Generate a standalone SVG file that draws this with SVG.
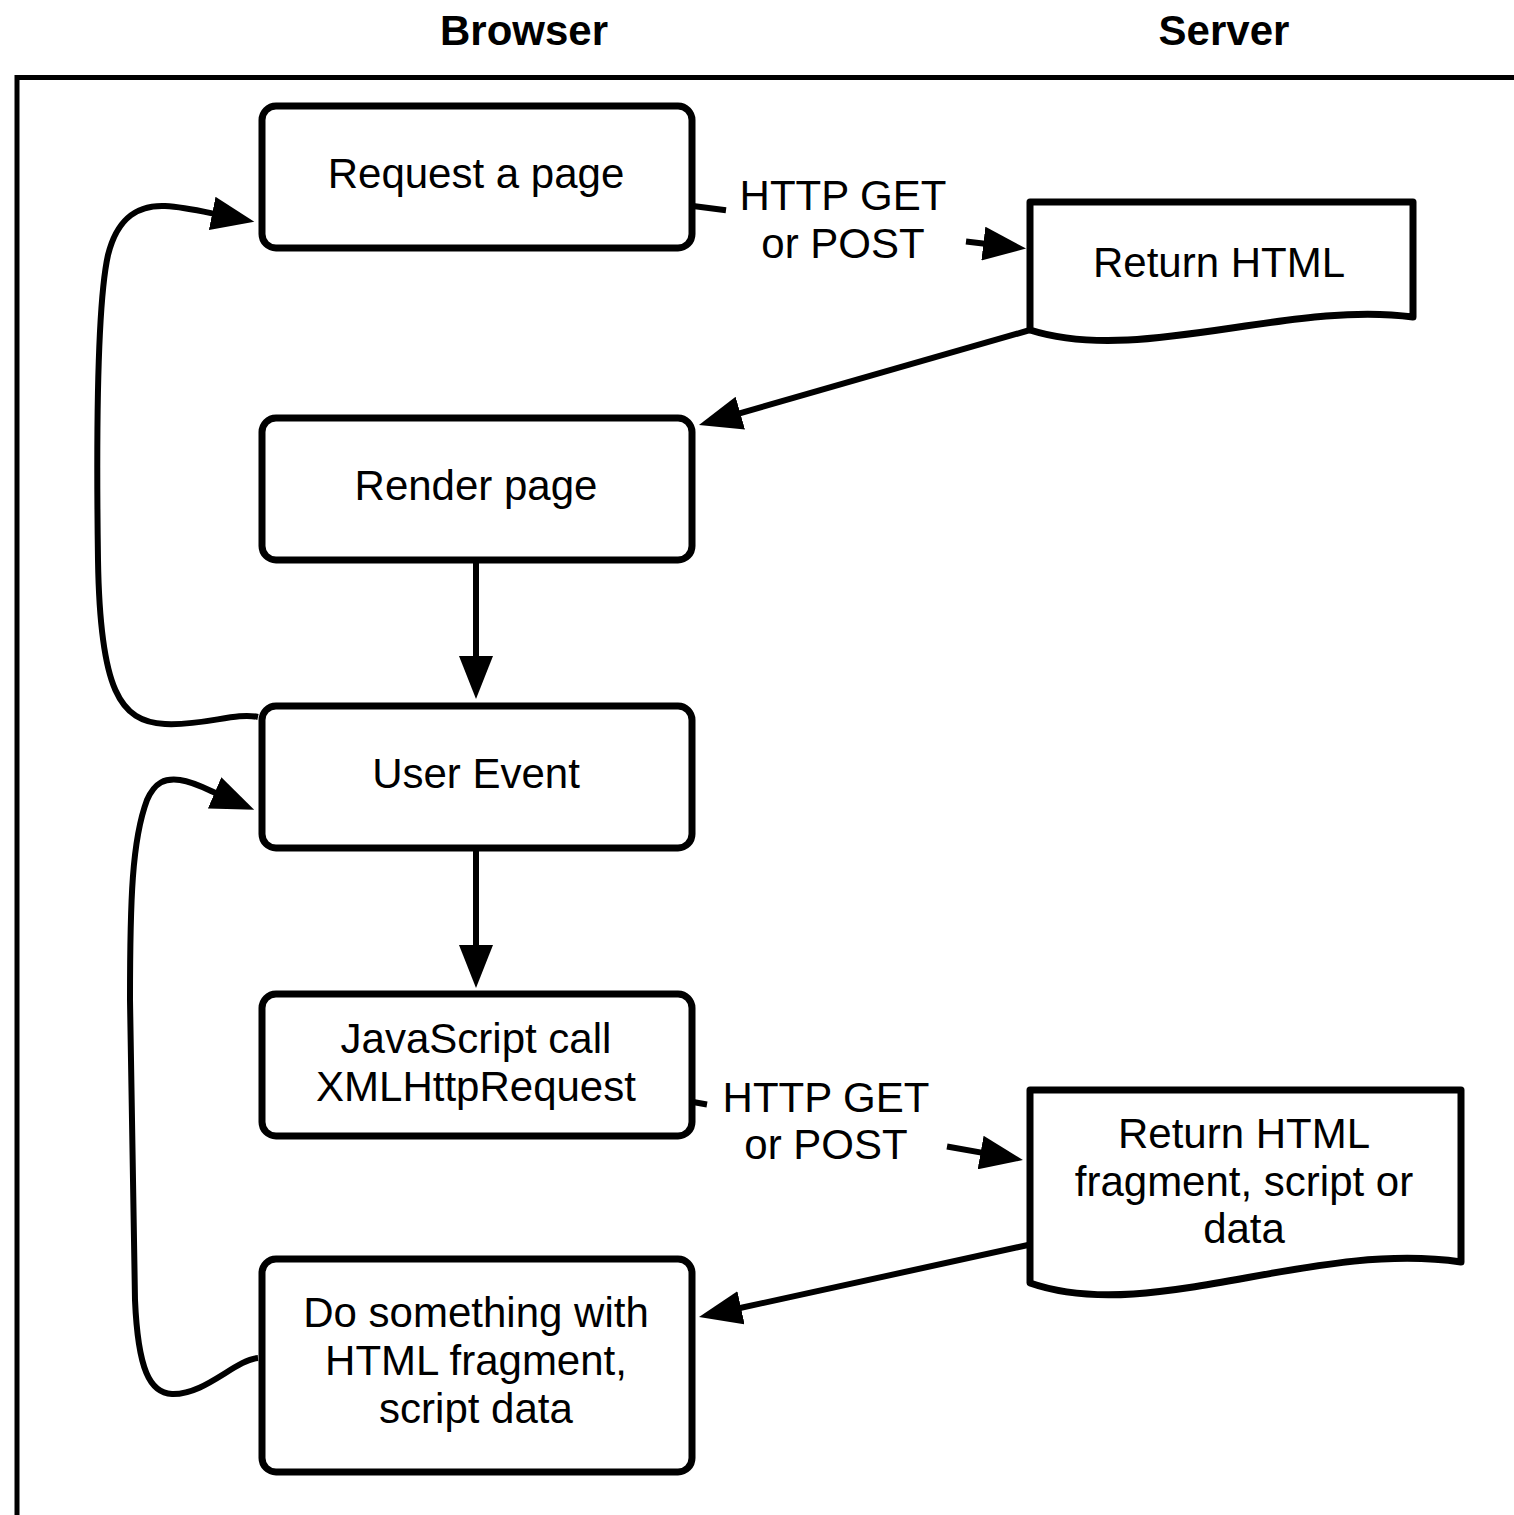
<svg xmlns="http://www.w3.org/2000/svg" width="1514" height="1515" viewBox="0 0 1514 1515">
<style>
.box{fill:#fff;stroke:#000;stroke-width:7}
.doc{fill:#fff;stroke:#000;stroke-width:7;stroke-linejoin:round}
.t{font-family:"Liberation Sans",Arial,sans-serif;font-size:42px;fill:#000;text-anchor:middle}
.h{font-family:"Liberation Sans",Arial,sans-serif;font-size:42px;font-weight:bold;fill:#000;text-anchor:middle}
.c{fill:none;stroke:#000;stroke-width:6}
.a{marker-end:url(#arr)}
</style>
<defs>
<marker id="arr" markerUnits="userSpaceOnUse" markerWidth="44" markerHeight="34" viewBox="0 0 44 34" refX="8" refY="17" orient="auto">
<path d="M0,0 L43,17 L0,34 Z" fill="#000"/>
</marker>
</defs>
<rect width="1514" height="1515" fill="#fff"/>
<path d="M17,1515 L17,77.5 L1514,77.5" fill="none" stroke="#000" stroke-width="5"/>
<text class="h" x="524" y="45">Browser</text>
<text class="h" x="1224" y="45">Server</text>

<g id="connectors">
<path class="c a" d="M693,206 L726,210.3 M966,241.5 L991.3,244.5"/>
<path class="c a" d="M1030,330 L732.6,415.3"/>
<path class="c a" d="M476,561 L476,664"/>
<path class="c a" d="M476,849 L476,953"/>
<path class="c a" d="M693,1102 L707,1104.5 M947,1146.5 L988.5,1153.9"/>
<path class="c a" d="M1028,1245 L733.2,1309.5"/>
<path class="c a" d="M258,717 C235,712 205,726 165,724 C120,722 100,690 98,560 C96,420 98,300 108,255 C118,215 140,205 165,206 C185,207 205,212 220,215"/>
<path class="c a" d="M258,1358 C235,1360 205,1395 172,1394 C150,1393 138,1370 135,1300 L130,1000 C130,900 132,840 147,800 C155,782 165,778 180,780 C195,782 208,790 222,796"/>
<text class="t" x="843" y="210">HTTP GET</text>
<text class="t" x="843" y="258">or POST</text>
<text class="t" x="826" y="1112">HTTP GET</text>
<text class="t" x="826" y="1159">or POST</text>
</g>

<g id="request">
<rect class="box" x="262" y="106" width="430" height="142" rx="14"/>
<text class="t" x="476" y="188">Request a page</text>
</g>
<g id="return-html">
<path class="doc" d="M1030,330 L1030,202 L1413,202 L1413,317 C1290,300 1140,365 1030,330 Z"/>
<text class="t" x="1219" y="277">Return HTML</text>
</g>
<g id="render">
<rect class="box" x="262" y="418" width="430" height="142" rx="14"/>
<text class="t" x="476" y="500">Render page</text>
</g>
<g id="user-event">
<rect class="box" x="262" y="706" width="430" height="142" rx="14"/>
<text class="t" x="476" y="788">User Event</text>
</g>
<g id="js-call">
<rect class="box" x="262" y="994" width="430" height="142" rx="14"/>
<text class="t" x="476" y="1053">JavaScript call</text>
<text class="t" x="476" y="1101">XMLHttpRequest</text>
</g>
<g id="return-fragment">
<path class="doc" d="M1030,1283 L1030,1090 L1461,1090 L1461,1262 C1310,1240 1150,1325 1030,1283 Z"/>
<text class="t" x="1244" y="1148">Return HTML</text>
<text class="t" x="1244" y="1196">fragment, script or</text>
<text class="t" x="1244" y="1243">data</text>
</g>
<g id="do-something">
<rect class="box" x="262" y="1259" width="430" height="213" rx="14"/>
<text class="t" x="476" y="1327">Do something with</text>
<text class="t" x="476" y="1375">HTML fragment,</text>
<text class="t" x="476" y="1423">script data</text>
</g>
</svg>
